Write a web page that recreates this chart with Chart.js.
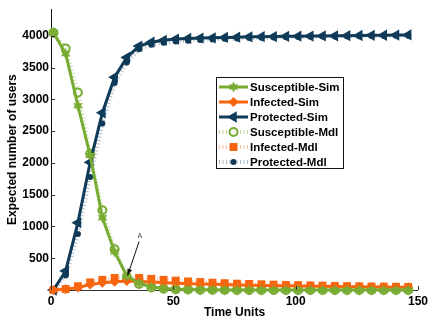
<!DOCTYPE html>
<html>
<head>
<meta charset="utf-8">
<script src="https://cdn.jsdelivr.net/npm/chart.js@4.4.0/dist/chart.umd.min.js"></script>
<style>
html, body { margin: 0; padding: 0; background: #fff; }
#wrap { width: 432px; height: 330px; }
</style>
</head>
<body>
<div id="wrap"><canvas id="grafico" width="432" height="330"></canvas></div>
<script>
const tiempos = [1, 6, 11, 16, 21, 26, 31, 36, 41, 46, 51, 56, 61, 66, 71, 76, 81, 86, 91, 96, 101, 106, 111, 116, 121, 126, 131, 136, 141, 146];

const susceptibleSim = [4050, 3720, 2900, 2120, 1140, 600, 220, 110, 50, 25, 12, 6, 3, 2, 1, 0, 0, 0, 0, 0, 0, 0, 0, 0, 0, 0, 0, 0, 0, 0];
const infectedSim = [0, 10, 40, 85, 115, 130, 140, 135, 125, 115, 108, 100, 95, 90, 85, 80, 76, 72, 68, 65, 62, 60, 58, 55, 53, 51, 49, 47, 45, 44];
const protectedSim = [0, 300, 1060, 2010, 2790, 3350, 3660, 3840, 3900, 3930, 3950, 3960, 3965, 3970, 3975, 3980, 3985, 3988, 3990, 3993, 3995, 3998, 4000, 4002, 4004, 4006, 4008, 4010, 4012, 4014];

const susceptibleMdl = [4050, 3800, 3110, 2145, 1255, 640, 200, 96, 40, 20, 12, 8, 5, 3, 2, 1, 1, 0, 0, 0, 0, 0, 0, 0, 0, 0, 0, 0, 0, 0];
const infectedMdl = [0, 15, 60, 120, 160, 190, 200, 190, 175, 160, 148, 135, 125, 115, 107, 100, 95, 90, 85, 80, 76, 72, 68, 64, 61, 58, 55, 52, 50, 48];
const protectedMdl = [0, 230, 880, 1780, 2620, 3260, 3580, 3790, 3860, 3890, 3910, 3925, 3935, 3945, 3955, 3960, 3965, 3970, 3975, 3980, 3983, 3986, 3989, 3992, 3994, 3996, 3998, 4000, 4002, 4004];

const ticksX = [0, 50, 100, 150];
const ticksY = [500, 1000, 1500, 2000, 2500, 3000, 3500, 4000];
const nombres = ['Susceptible-Sim', 'Infected-Sim', 'Protected-Sim', 'Susceptible-Mdl', 'Infected-Mdl', 'Protected-Mdl'];

const verde = '#78ab32';
const naranja = '#f8650f';
const azul = '#0f3a58';
const fuente = "'Liberation Sans', Arial, sans-serif";

function estrella(color, r) {
    const c = document.createElement('canvas');
    const s = Math.ceil(r * 2 + 2);
    c.width = s; c.height = s;
    const g = c.getContext('2d');
    g.fillStyle = color;
    g.beginPath();
    for (let i = 0; i < 12; i++) {
        const a = -Math.PI / 2 + i * Math.PI / 6;
        const rr = i % 2 === 0 ? r : r * 0.55;
        g.lineTo(s / 2 + rr * Math.cos(a), s / 2 + rr * Math.sin(a));
    }
    g.closePath();
    g.fill();
    return c;
}

const marcaEstrella = estrella(verde, 5.5);

function puntos(valores) {
    return tiempos.map((t, i) => ({ x: t, y: valores[i] }));
}

const series = [
    { label: nombres[0], data: puntos(susceptibleSim), borderColor: verde, backgroundColor: verde, borderWidth: 3,
      pointStyle: marcaEstrella, pointRadius: 5.5, pointBorderWidth: 0 },
    { label: nombres[1], data: puntos(infectedSim), borderColor: naranja, backgroundColor: naranja, borderWidth: 3,
      pointStyle: 'rectRot', pointRadius: 5, pointBorderWidth: 0 },
    { label: nombres[2], data: puntos(protectedSim), borderColor: azul, backgroundColor: azul, borderWidth: 3,
      pointStyle: 'triangle', pointRotation: -90, pointRadius: 6.5, pointBorderWidth: 0 },
    { label: nombres[3], data: puntos(susceptibleMdl), borderColor: 'rgba(120,171,50,0.45)', borderDash: [1, 2.5], borderWidth: 4,
      pointStyle: 'circle', pointRadius: 4, pointBorderWidth: 2, pointBorderColor: verde, pointBackgroundColor: '#f4f8ec' },
    { label: nombres[4], data: puntos(infectedMdl), borderColor: 'rgba(248,101,15,0.4)', borderDash: [1, 2.5], borderWidth: 4,
      pointStyle: 'rect', pointRadius: 5.6, pointBorderWidth: 0, pointBackgroundColor: naranja },
    { label: nombres[5], data: puntos(protectedMdl), borderColor: 'rgba(15,58,88,0.35)', borderDash: [1, 2.5], borderWidth: 4,
      pointStyle: 'circle', pointRadius: 3, pointBorderWidth: 0, pointBackgroundColor: azul }
];

// leyenda dentro del area y flecha "A"
const extras = {
    id: 'extras',
    afterDatasetsDraw(chart) {
        const ctx = chart.ctx;
        const sx = chart.scales.x, sy = chart.scales.y;
        ctx.save();
        // marcas internas de los ejes
        ctx.strokeStyle = '#333';
        ctx.lineWidth = 1;
        ctx.beginPath();
        ticksX.forEach(v => {
            const px = Math.round(sx.getPixelForValue(v)) + 0.5;
            ctx.moveTo(px, sy.bottom); ctx.lineTo(px, sy.bottom - 4);
        });
        ticksY.forEach(v => {
            const py = Math.round(sy.getPixelForValue(v)) + 0.5;
            ctx.moveTo(sx.left, py); ctx.lineTo(sx.left + 4, py);
        });
        ctx.stroke();

        // flecha A
        const x0 = sx.getPixelForValue(36), y0 = sy.getPixelForValue(760);
        const x1 = sx.getPixelForValue(31.3), y1 = sy.getPixelForValue(230);
        ctx.strokeStyle = '#111';
        ctx.fillStyle = '#111';
        ctx.lineWidth = 1;
        ctx.beginPath(); ctx.moveTo(x0, y0); ctx.lineTo(x1, y1); ctx.stroke();
        const ang = Math.atan2(y1 - y0, x1 - x0);
        ctx.beginPath();
        ctx.moveTo(x1, y1);
        ctx.lineTo(x1 - 7 * Math.cos(ang - 0.35), y1 - 7 * Math.sin(ang - 0.35));
        ctx.lineTo(x1 - 7 * Math.cos(ang + 0.35), y1 - 7 * Math.sin(ang + 0.35));
        ctx.closePath(); ctx.fill();
        ctx.font = "7px " + fuente;
        ctx.fillStyle = '#444';
        ctx.textAlign = 'center';
        ctx.textBaseline = 'bottom';
        ctx.fillText('A', sx.getPixelForValue(36.3), sy.getPixelForValue(800));

        // leyenda
        const bx = 216.5, by = 77.5, bw = 127, bh = 91;
        ctx.fillStyle = '#fff';
        ctx.fillRect(bx, by, bw, bh);
        ctx.strokeStyle = '#111';
        ctx.lineWidth = 1;
        ctx.strokeRect(bx, by, bw, bh);
        ctx.font = "bold 11.5px " + fuente;
        ctx.textAlign = 'left';
        ctx.textBaseline = 'middle';
        chart.data.datasets.forEach((ds, i) => {
            const y = 87 + i * 15;
            ctx.save();
            ctx.strokeStyle = ds.borderColor;
            ctx.lineWidth = ds.borderWidth;
            ctx.setLineDash(ds.borderDash || []);
            ctx.beginPath(); ctx.moveTo(219, y); ctx.lineTo(248, y); ctx.stroke();
            ctx.setLineDash([]);
            ctx.fillStyle = ds.pointBackgroundColor || ds.backgroundColor;
            ctx.strokeStyle = ds.pointBorderColor || ds.borderColor;
            ctx.lineWidth = ds.pointBorderWidth;
            Chart.helpers.drawPoint(ctx, {
                pointStyle: ds.pointStyle, radius: ds.pointRadius,
                rotation: ds.pointRotation || 0, borderWidth: ds.pointBorderWidth
            }, 233.5, y);
            ctx.restore();
            ctx.fillStyle = '#000';
            ctx.fillText(ds.label, 250, y + 0.5);
        });
        ctx.restore();
    }
};

new Chart(document.getElementById('grafico'), {
    type: 'line',
    data: { datasets: series },
    options: {
        responsive: false,
        animation: false,
        layout: { padding: { left: 0, right: 12, top: 0, bottom: 0 } },
        elements: { line: { tension: 0 } },
        datasets: { line: { clip: false } },
        plugins: { legend: { display: false }, tooltip: { enabled: false } },
        scales: {
            x: {
                type: 'linear', min: 0, max: 150,
                afterBuildTicks: s => { s.ticks = ticksX.map(v => ({ value: v })); },
                afterFit: s => { s.height = 40; },
                grid: { display: false, drawTicks: false },
                border: { display: true, color: '#333', width: 1 },
                ticks: { padding: 4, color: '#000', callback: v => String(v),
                    font: { family: fuente, size: 12, weight: 'bold' }, maxRotation: 0 },
                title: { display: true, text: 'Time Units', color: '#000', padding: { top: 0, bottom: 10 },
                    font: { family: fuente, size: 12, weight: 'bold' } }
            },
            y: {
                min: 0, max: 4420,
                afterBuildTicks: s => { s.ticks = ticksY.map(v => ({ value: v })); },
                afterFit: s => { s.width = 51; },
                grid: { display: false, drawTicks: false },
                border: { display: true, color: '#111', width: 1 },
                ticks: { padding: 2, color: '#000', callback: v => String(v),
                    font: { family: fuente, size: 12, weight: 'bold' } },
                title: { display: true, text: 'Expected number of users', color: '#000', padding: { top: 5, bottom: 0 },
                    font: { family: fuente, size: 12, weight: 'bold' } }
            }
        }
    },
    plugins: [extras]
});
</script>
</body>
</html>
